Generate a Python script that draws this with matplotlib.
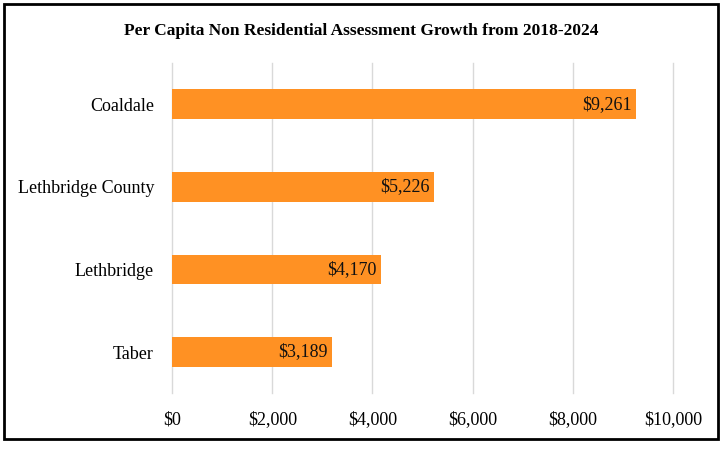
import matplotlib.pyplot as plt
from matplotlib.patches import Rectangle
from matplotlib.ticker import FuncFormatter

# ---------------- DATA ----------------
municipalities = ["Coaldale", "Lethbridge County", "Lethbridge", "Taber"]
growth = [9261, 5226, 4170, 3189]
x_ticks = [0, 2000, 4000, 6000, 8000, 10000]

BAR_COLOR = "#FF9123"
plt.rcParams["font.family"] = ["Liberation Serif", "DejaVu Serif"]

fig = plt.figure(figsize=(7.23, 4.49), dpi=100)
ax = fig.add_axes([0.238, 0.124, 0.693, 0.736])

y = list(range(len(municipalities)))
bars = ax.barh(y, growth, height=0.36, color=BAR_COLOR, zorder=3)
ax.set_yticks(y)
ax.set_yticklabels(municipalities, fontsize=13)
ax.set_ylim(len(municipalities) - 0.5, -0.5)

for b, v in zip(bars, growth):
    ax.text(v - 90, b.get_y() + b.get_height() / 2, f"${v:,.0f}",
            ha="right", va="center", fontsize=13, color="#111111", zorder=4)

ax.set_xlim(0, 10000)
ax.set_xticks(x_ticks)
ax.xaxis.set_major_formatter(FuncFormatter(lambda v, p: f"${v:,.0f}"))
ax.tick_params(axis="x", labelsize=13, length=0, pad=13)
ax.tick_params(axis="y", length=0, pad=13)
ax.grid(axis="x", color="#D9D9D9", linewidth=1, zorder=0)
for gl in ax.get_xgridlines():
    gl.set_clip_on(False)
for s in ax.spines.values():
    s.set_visible(False)

fig.text(0.5, 0.93, "Per Capita Non Residential Assessment Growth from 2018-2024",
         ha="center", va="center", fontsize=12.5, fontweight="bold")

# outer frame
fig.patches.append(Rectangle((4 / 723, 1 - 439 / 449), 714 / 723, 435 / 449,
                             transform=fig.transFigure, fill=False,
                             edgecolor="black", linewidth=2))

fig.savefig("out.png", dpi=100)
